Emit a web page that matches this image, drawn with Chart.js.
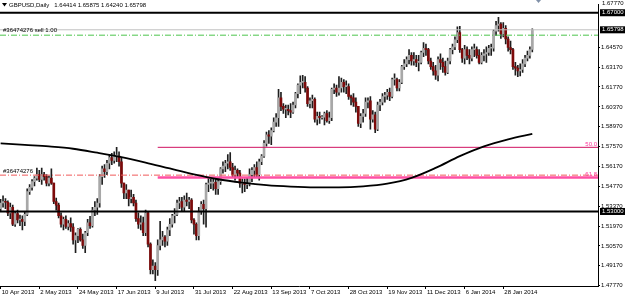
<!DOCTYPE html>
<html>
<head>
<meta charset="utf-8">
<script src="https://cdn.jsdelivr.net/npm/chart.js@4.4.1/dist/chart.umd.min.js"></script>
<style>
  html, body { margin: 0; padding: 0; background: #fff; }
  canvas { display: block; }
</style>
</head>
<body>
<canvas id="chart" width="625" height="299"></canvas>
<script>
// GBPUSD daily candles (one bar per trading day)
const symbol = 'GBPUSD,Daily';
const tickIdx = [0, 16, 32, 48, 64, 80, 96, 112, 128, 144, 160, 176, 192, 208];
const tickLabels = ['10 Apr 2013', '2 May 2013', '24 May 2013', '17 Jun 2013', '9 Jul 2013', '31 Jul 2013',
  '22 Aug 2013', '13 Sep 2013', '7 Oct 2013', '28 Oct 2013', '19 Nov 2013', '11 Dec 2013', '6 Jan 2014', '28 Jan 2014'];

const firstOpen = 1.5320;
const closes = [
  1.5360,1.5370,1.5365,1.5290,1.5330,1.5210,1.5285,1.5240,1.5245,1.5230,
  1.5280,1.5440,1.5470,1.5510,1.5535,1.5560,1.5525,1.5560,1.5545,1.5500,
  1.5535,1.5500,1.5370,1.5345,1.5270,1.5210,1.5245,1.5195,1.5215,1.5190,
  1.5100,1.5130,1.5175,1.5100,1.5060,1.5150,1.5220,1.5200,1.5310,1.5330,
  1.5360,1.5545,1.5600,1.5580,1.5640,1.5680,1.5660,1.5690,1.5690,1.5650,
  1.5500,1.5430,1.5450,1.5390,1.5400,1.5360,1.5250,1.5210,1.5220,1.5150,
  1.5290,1.5070,1.4890,1.4915,1.4890,1.5060,1.5100,1.5120,1.5090,1.5170,
  1.5210,1.5270,1.5280,1.5360,1.5370,1.5330,1.5380,1.5370,1.5380,1.5240,
  1.5210,1.5130,1.5300,1.5350,1.5320,1.5490,1.5500,1.5500,1.5505,1.5460,
  1.5510,1.5600,1.5620,1.5640,1.5650,1.5610,1.5560,1.5590,1.5570,1.5500,
  1.5500,1.5490,1.5495,1.5560,1.5590,1.5610,1.5560,1.5650,1.5690,1.5780,
  1.5840,1.5830,1.5870,1.5930,1.5960,1.6100,1.6040,1.6020,1.6020,1.6010,
  1.6000,1.6050,1.6130,1.6190,1.6210,1.6210,1.6170,1.6060,1.6080,1.6090,
  1.5950,1.5970,1.5960,1.5965,1.5990,1.5940,1.5960,1.6160,1.6170,1.6140,
  1.6170,1.6210,1.6180,1.6180,1.6110,1.6100,1.6070,1.6040,1.5920,1.5970,
  1.5990,1.6070,1.6080,1.5950,1.5980,1.5880,1.6050,1.6070,1.6110,1.6120,
  1.6140,1.6110,1.6230,1.6230,1.6170,1.6210,1.6320,1.6340,1.6370,1.6400,
  1.6360,1.6370,1.6350,1.6350,1.6420,1.6450,1.6440,1.6360,1.6320,1.6290,
  1.6260,1.6370,1.6350,1.6320,1.6280,1.6360,1.6440,1.6460,1.6510,1.6560,
  1.6440,1.6380,1.6440,1.6400,1.6380,1.6440,1.6440,1.6400,1.6350,1.6400,
  1.6410,1.6420,1.6450,1.6450,1.6570,1.6610,1.6620,1.6550,1.6590,1.6515,
  1.6455,1.6440,1.6320,1.6310,1.6290,1.6300,1.6340,1.6380,1.6400,1.64414,
  1.65798
];
const highs = [
  1.5385,1.5410,1.5390,1.5375,1.5360,1.5345,1.5300,1.5310,1.5275,1.5270,
  1.5300,1.5460,1.5490,1.5525,1.5545,1.5605,1.5590,1.5605,1.5575,1.5560,
  1.5550,1.5600,1.5500,1.5395,1.5360,1.5290,1.5260,1.5270,1.5235,1.5255,
  1.5215,1.5150,1.5180,1.5185,1.5140,1.5160,1.5245,1.5265,1.5330,1.5370,
  1.5390,1.5560,1.5620,1.5630,1.5660,1.5700,1.5710,1.5720,1.5752,1.5720,
  1.5680,1.5500,1.5490,1.5450,1.5450,1.5420,1.5380,1.5290,1.5270,1.5260,
  1.5310,1.5300,1.5080,1.4960,1.4940,1.5100,1.5230,1.5160,1.5130,1.5190,
  1.5250,1.5280,1.5320,1.5380,1.5400,1.5400,1.5410,1.5430,1.5400,1.5390,
  1.5250,1.5220,1.5330,1.5370,1.5380,1.5500,1.5540,1.5530,1.5530,1.5530,
  1.5530,1.5610,1.5650,1.5660,1.5700,1.5715,1.5640,1.5620,1.5600,1.5590,
  1.5530,1.5530,1.5540,1.5600,1.5610,1.5630,1.5650,1.5670,1.5700,1.5800,
  1.5860,1.5870,1.5890,1.5960,1.5990,1.6160,1.6140,1.6060,1.6050,1.6050,
  1.6060,1.6070,1.6140,1.6200,1.6255,1.6260,1.6250,1.6180,1.6100,1.6120,
  1.6100,1.6000,1.6000,1.5975,1.6000,1.6010,1.6000,1.6170,1.6200,1.6190,
  1.6250,1.6240,1.6230,1.6220,1.6200,1.6120,1.6130,1.6100,1.6040,1.5990,
  1.6020,1.6100,1.6100,1.6110,1.6010,1.6000,1.6070,1.6090,1.6130,1.6140,
  1.6160,1.6170,1.6240,1.6270,1.6240,1.6230,1.6330,1.6370,1.6390,1.6440,
  1.6420,1.6420,1.6400,1.6400,1.6430,1.6490,1.6480,1.6450,1.6380,1.6350,
  1.6330,1.6390,1.6410,1.6380,1.6360,1.6380,1.6450,1.6480,1.6530,1.6600,
  1.6605,1.6450,1.6470,1.6460,1.6440,1.6460,1.6480,1.6460,1.6440,1.6420,
  1.6440,1.6460,1.6470,1.6480,1.6580,1.6640,1.6668,1.6630,1.6630,1.6610,
  1.6530,1.6500,1.6450,1.6350,1.6330,1.6340,1.6370,1.6400,1.6430,1.6460,
  1.65875
];
const lows = [
  1.5300,1.5330,1.5320,1.5270,1.5250,1.5200,1.5195,1.5220,1.5200,1.5170,
  1.5200,1.5270,1.5420,1.5450,1.5480,1.5520,1.5510,1.5490,1.5520,1.5480,
  1.5480,1.5490,1.5355,1.5310,1.5255,1.5190,1.5170,1.5180,1.5170,1.5160,
  1.5070,1.5010,1.5080,1.5090,1.5040,1.5010,1.5130,1.5180,1.5190,1.5270,
  1.5280,1.5330,1.5490,1.5540,1.5560,1.5600,1.5630,1.5640,1.5650,1.5620,
  1.5470,1.5390,1.5390,1.5340,1.5360,1.5340,1.5230,1.5180,1.5170,1.5130,
  1.5130,1.5050,1.4860,1.4860,1.4813,1.4850,1.5030,1.5060,1.5050,1.5060,
  1.5130,1.5190,1.5220,1.5270,1.5320,1.5300,1.5300,1.5340,1.5320,1.5220,
  1.5140,1.5100,1.5100,1.5280,1.5210,1.5190,1.5440,1.5460,1.5450,1.5420,
  1.5420,1.5490,1.5570,1.5580,1.5600,1.5590,1.5540,1.5520,1.5540,1.5470,
  1.5430,1.5440,1.5460,1.5480,1.5510,1.5540,1.5540,1.5520,1.5630,1.5680,
  1.5760,1.5780,1.5770,1.5860,1.5900,1.5900,1.6010,1.5990,1.5960,1.5980,
  1.5960,1.5990,1.6030,1.6100,1.6130,1.6170,1.6140,1.6040,1.6030,1.6030,
  1.5930,1.5910,1.5920,1.5950,1.5910,1.5930,1.5920,1.5940,1.6130,1.6110,
  1.6120,1.6140,1.6140,1.6130,1.6090,1.6050,1.6040,1.6000,1.5900,1.5890,
  1.5930,1.5970,1.6030,1.5880,1.5930,1.5855,1.5870,1.6010,1.6050,1.6070,
  1.6090,1.6080,1.6100,1.6190,1.6150,1.6150,1.6200,1.6300,1.6320,1.6340,
  1.6330,1.6330,1.6320,1.6290,1.6340,1.6390,1.6400,1.6340,1.6300,1.6260,
  1.6230,1.6220,1.6300,1.6280,1.6260,1.6270,1.6340,1.6410,1.6440,1.6490,
  1.6420,1.6350,1.6340,1.6370,1.6340,1.6360,1.6390,1.6380,1.6340,1.6340,
  1.6360,1.6350,1.6400,1.6400,1.6430,1.6540,1.6570,1.6520,1.6530,1.6480,
  1.6430,1.6410,1.6300,1.6260,1.6250,1.6255,1.6280,1.6320,1.6360,1.6380,
  1.6424
];
// forex bars open where the previous one closed
const opens = closes.map((c, i) => (i === 0 ? firstOpen : closes[i - 1]));

// moving average, sampled every 10 bars
const maIdx = [0, 10, 20, 30, 40, 50, 60, 70, 80, 90, 100, 110, 120, 130, 140, 150, 160, 170, 180, 190, 200, 210, 220];
const maVals = [1.5780, 1.5769, 1.5758, 1.5742, 1.5714, 1.5683, 1.5645, 1.5603, 1.5562, 1.5527, 1.5503, 1.5485,
  1.5475, 1.5470, 1.5470, 1.5477, 1.5496, 1.5537, 1.5607, 1.5690, 1.5759, 1.5808, 1.5846];

const priceTicks = [1.4777, 1.4917, 1.5057, 1.5197, 1.5337, 1.5477, 1.5617, 1.5757, 1.5897, 1.6037, 1.6177, 1.6317, 1.6457];
const topPrice = 1.6777;
const resistance = 1.6700;
const support = 1.5300;
const orderId = '#36474276';
const orderText = 'sell 1.00';
const orderPrice = 1.6542;
const targetPrice = 1.5556;
const fibStart = 65;
const fib50 = 1.5752;
const fib618 = 1.5540;

const last = closes.length - 1;
const xMin = -0.26, xMax = 247.19;
const yMin = 1.4775, yMax = 1.67574;
const font = 'Liberation Sans';

function level(price, from, color, width, dash) {
  return {
    type: 'line',
    data: [{ x: from, y: price }, { x: xMax, y: price }],
    borderColor: color,
    borderWidth: width,
    borderDash: dash || [],
    pointRadius: 0,
    order: 0
  };
}

const mt4Text = {
  id: 'mt4Text',
  afterDraw(chart) {
    const { ctx } = chart;
    const y = chart.scales.y;
    ctx.save();
    ctx.font = '6px "' + font + '"';
    ctx.textBaseline = 'middle';

    // title
    ctx.fillStyle = '#000';
    ctx.beginPath();
    ctx.moveTo(2, 3); ctx.lineTo(7, 3); ctx.lineTo(4.5, 6.5); ctx.closePath();
    ctx.fill();
    const ohlc = [opens[last], highs[last], lows[last], closes[last]].map(v => v.toFixed(5)).join(' ');
    ctx.fillText(symbol, 9, 5.5);
    ctx.fillText(ohlc, 9 + ctx.measureText(symbol).width + 5, 5.5);

    // order labels
    ctx.fillText(orderId + ' ' + orderText, 3, y.getPixelForValue(orderPrice) - 4.5);
    ctx.fillText(orderId, 3, y.getPixelForValue(targetPrice) - 4);

    // fibo labels
    ctx.fillStyle = '#ff3399';
    ctx.textAlign = 'right';
    ctx.fillText('50.0', 597, y.getPixelForValue(fib50) - 3);
    ctx.fillText('61.8', 597, y.getPixelForValue(fib618) - 3.5);

    // price axis extras
    ctx.textAlign = 'left';
    ctx.fillStyle = '#000';
    ctx.fillText(topPrice.toFixed(5), 602, 3.5);
    [resistance, closes[last], support].forEach(p => {
      const py = y.getPixelForValue(p);
      ctx.fillStyle = '#000';
      ctx.fillRect(600, py - 3.5, 25, 7);
      ctx.fillStyle = '#fff';
      ctx.fillText(p.toFixed(5), 602, py);
    });

    // chart shift marker
    ctx.fillStyle = '#8090a8';
    ctx.beginPath();
    ctx.moveTo(536, 0); ctx.lineTo(541, 0); ctx.lineTo(538.5, 3); ctx.closePath();
    ctx.fill();
    ctx.restore();
  }
};

new Chart(document.getElementById('chart'), {
  type: 'bar',
  data: {
    datasets: [
      {
        type: 'line',
        data: maIdx.map((x, i) => ({ x, y: maVals[i] })),
        borderColor: '#000',
        borderWidth: 1.8,
        pointRadius: 0,
        cubicInterpolationMode: 'monotone',
        order: 0
      },
      level(resistance, xMin, '#000', 2),
      level(support, xMin, '#000', 2),
      level(closes[last], xMin, '#c0c0c0', 1),
      level(orderPrice, xMin, '#4cc44c', 1, [6, 2, 1, 2]),
      level(targetPrice, xMin, '#f05a5a', 1, [6, 2, 1, 2]),
      level(fib50, fibStart, '#d01060', 1),
      level(fib618, fibStart, '#ff4fa4', 2.5),
      {
        // candle bodies
        data: closes.map((c, i) => ({ x: i, y: [opens[i], c] })),
        backgroundColor: ctx => (closes[ctx.dataIndex] >= opens[ctx.dataIndex] ? '#a8a8a8' : '#7d0a0a'),
        barThickness: 2,
        minBarLength: 1,
        grouped: false,
        order: 1
      },
      {
        // wicks
        data: highs.map((h, i) => ({ x: i, y: [lows[i], h] })),
        backgroundColor: '#1e1e1e',
        barThickness: 1,
        grouped: false,
        order: 2
      }
    ]
  },
  options: {
    responsive: false,
    animation: false,
    events: [],
    layout: { padding: 0, autoPadding: false },
    plugins: { legend: { display: false }, tooltip: { enabled: false } },
    scales: {
      x: {
        type: 'linear',
        min: xMin,
        max: xMax,
        offset: false,
        grid: { display: true, drawOnChartArea: false, offset: false, tickLength: 3, color: '#000' },
        border: { display: true, color: '#000', width: 1 },
        afterBuildTicks: s => { s.ticks = tickIdx.map(v => ({ value: v })); },
        afterFit: s => { s.height = 13; },
        ticks: {
          autoSkip: false,
          maxRotation: 0,
          align: 'start',
          labelOffset: 1,
          padding: 0,
          color: '#000',
          font: { family: font, size: 6 },
          callback: v => tickLabels[tickIdx.indexOf(v)]
        }
      },
      y: {
        position: 'right',
        min: yMin,
        max: yMax,
        grid: { display: true, drawOnChartArea: false, tickLength: 2, color: '#000' },
        border: { display: true, color: '#000', width: 1 },
        afterBuildTicks: s => { s.ticks = priceTicks.map(v => ({ value: v })); },
        afterFit: s => { s.width = 27; },
        ticks: {
          padding: 1,
          color: '#000',
          font: { family: font, size: 6 },
          callback: v => v.toFixed(5)
        }
      }
    }
  },
  plugins: [mt4Text]
});
</script>
</body>
</html>
